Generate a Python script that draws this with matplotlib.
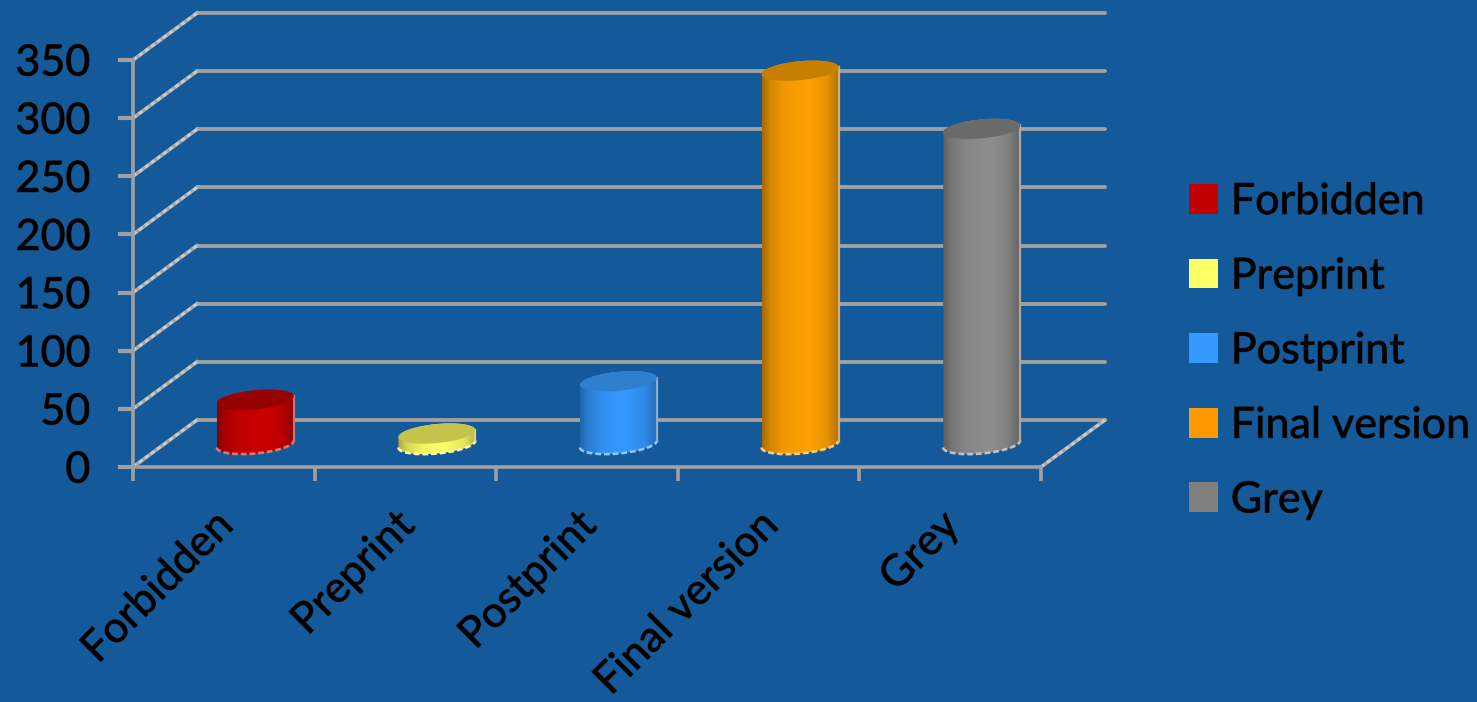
import numpy as np
import matplotlib
matplotlib.use("Agg")
import matplotlib.pyplot as plt
import matplotlib.patheffects as pe
from matplotlib.patches import Polygon, Patch
from matplotlib.colors import to_rgb
from matplotlib.transforms import ScaledTranslation

categories = ["Forbidden", "Preprint", "Postprint", "Final version", "Grey"]
values = [38, 9, 54, 321, 271]
y_ticks = [0, 50, 100, 150, 200, 250, 300, 350]

body_colors = ["#CC0000", "#FFFF66", "#3399FF", "#FFA200", "#8E8E8E"]
cap_colors = ["#960000", "#C4C44C", "#2F7FCF", "#C77F00", "#6A6A6A"]
legend_colors = ["#C00000", "#FFFF66", "#3399FF", "#FF9900", "#808080"]
BG = "#14599A"
GRID = "#A0A0A0"
FS = 31

W, H = 1477, 702
plt.rcParams["font.family"] = ["Lato", "DejaVu Sans"]
fig = plt.figure(figsize=(W / 100, H / 100), dpi=100, facecolor=BG)
ax = fig.add_axes([133 / W, 1 - 467 / H, 908 / W, 407 / H])
ax.set_facecolor("none")
ax.set_xlim(-0.5, 4.5)
ax.set_ylim(0, 350)
ax.set_autoscale_on(False)

PX_X = 181.6
PX_Y = 407 / 350
DX = 64 / PX_X
DY = 47 / PX_Y
CX = 31.5 / PX_X
CY = 23 / PX_Y
A = 38.5 / PX_X
B = 9.5 / PX_Y
TILT = 3.5 / PX_Y

# back wall and side wall
for v in y_ticks:
    ax.plot([-0.5 + DX, 4.5 + DX], [v + DY, v + DY], color=GRID, lw=2.8,
            clip_on=False, zorder=1, solid_capstyle="round")
    ax.plot([-0.5, -0.5 + DX], [v, v + DY], color="#A8A8A8", lw=2.6,
            clip_on=False, zorder=1)
    ax.plot([-0.5, -0.5 + DX], [v, v + DY], color="#CDCDCD", lw=2.0,
            ls=(0, (1.5, 1.2)), clip_on=False, zorder=1.1)
ax.plot([4.5, 4.5 + DX], [0, DY], color="#A8A8A8", lw=2.6, clip_on=False, zorder=1)
ax.plot([4.5, 4.5 + DX], [0, DY], color="#CDCDCD", lw=2.0,
        ls=(0, (1.5, 1.2)), clip_on=False, zorder=1.1)


def shade(n=200):
    u = np.linspace(0, 1, n)
    return np.interp(u, [0, 0.1, 0.3, 0.6, 0.85, 1], [0.65, 0.82, 0.95, 1, 0.9, 0.7])


t_low = np.linspace(np.pi, 2 * np.pi, 60)
t_up = np.linspace(0, np.pi, 60)
t_all = np.linspace(0, 2 * np.pi, 120)

for i, (val, body, cap) in enumerate(zip(values, body_colors, cap_colors)):
    cx = i + CX
    x_low = cx + A * np.cos(t_low)
    y_low = CY + B * np.sin(t_low) + TILT * np.cos(t_low)
    x_up = cx + A * np.cos(t_up)
    y_up = CY + val + B * np.sin(t_up) + TILT * np.cos(t_up)
    outline = np.column_stack([np.r_[x_low, x_up], np.r_[y_low, y_up]])
    clip = Polygon(outline, closed=True, transform=ax.transData, fc="none", ec="none")
    ax.add_patch(clip)
    rgb = np.array(to_rgb(body))
    img = (shade()[None, :, None] * rgb[None, None, :]).clip(0, 1)
    im = ax.imshow(img, extent=[cx - A, cx + A, 0, val + CY + B + TILT], aspect="auto",
                   zorder=3, interpolation="bilinear", clip_on=True)
    im.set_clip_path(clip)
    # pale rim along the bottom and right edge
    rim = rgb * 0.55 + 0.45
    side = rgb * 0.35 + np.array([0.72, 0.72, 0.72]) * 0.65
    ax.plot(x_low, y_low, color=rim, lw=1.9, ls=(0, (2.2, 1.1)), zorder=3.5, clip_on=False)
    ax.plot([cx + A, cx + A], [CY + TILT, CY + val + TILT], color=side, lw=1.6, zorder=3.5)
    ax.add_patch(Polygon(np.column_stack([cx + A * np.cos(t_all),
                                          CY + val + B * np.sin(t_all) + TILT * np.cos(t_all)]),
                         closed=True, fc=cap, ec="none", zorder=4))

# axes
for s in ("top", "right"):
    ax.spines[s].set_visible(False)
for s in ("left", "bottom"):
    ax.spines[s].set_color(GRID)
    ax.spines[s].set_linewidth(2.6)
    ax.spines[s].set_zorder(2)

ax.set_yticks(y_ticks)
ax.tick_params(axis="y", length=10.8, width=3, color=GRID, labelsize=FS, labelcolor="black", pad=20)
ax.set_xticks(range(len(categories)))
ax.set_xticklabels(categories, rotation=45, ha="right", va="top", rotation_mode="anchor",
                   fontsize=FS, color="black")
ax.set_xticks(np.arange(-0.5, 5, 1), minor=True)
ax.tick_params(axis="x", which="major", length=0, pad=30)
ax.tick_params(axis="x", which="minor", length=10, width=2.6, color=GRID)

stroke = [pe.withStroke(linewidth=0.7, foreground="#1a1a1a")]
shift = ScaledTranslation(-8 / 72, 2 / 72, fig.dpi_scale_trans)
for lbl in ax.get_xticklabels():
    lbl.set_transform(lbl.get_transform() + shift)
    lbl.set_path_effects(stroke)
for lbl in ax.get_yticklabels():
    lbl.set_path_effects(stroke)

handles = [Patch(fc=c, ec="none", label=n) for c, n in zip(legend_colors, categories)]
leg = ax.legend(handles=handles, loc="upper left", bbox_to_anchor=(1189 / W, 1 - 183 / H),
                bbox_transform=fig.transFigure, frameon=False, fontsize=FS, labelcolor="black",
                handlelength=0.67, handleheight=0.69, handletextpad=0.30, labelspacing=0.85,
                borderpad=0, borderaxespad=0)
for t in leg.get_texts():
    t.set_path_effects(stroke)

fig.savefig("out.png", dpi=100, facecolor=BG)
